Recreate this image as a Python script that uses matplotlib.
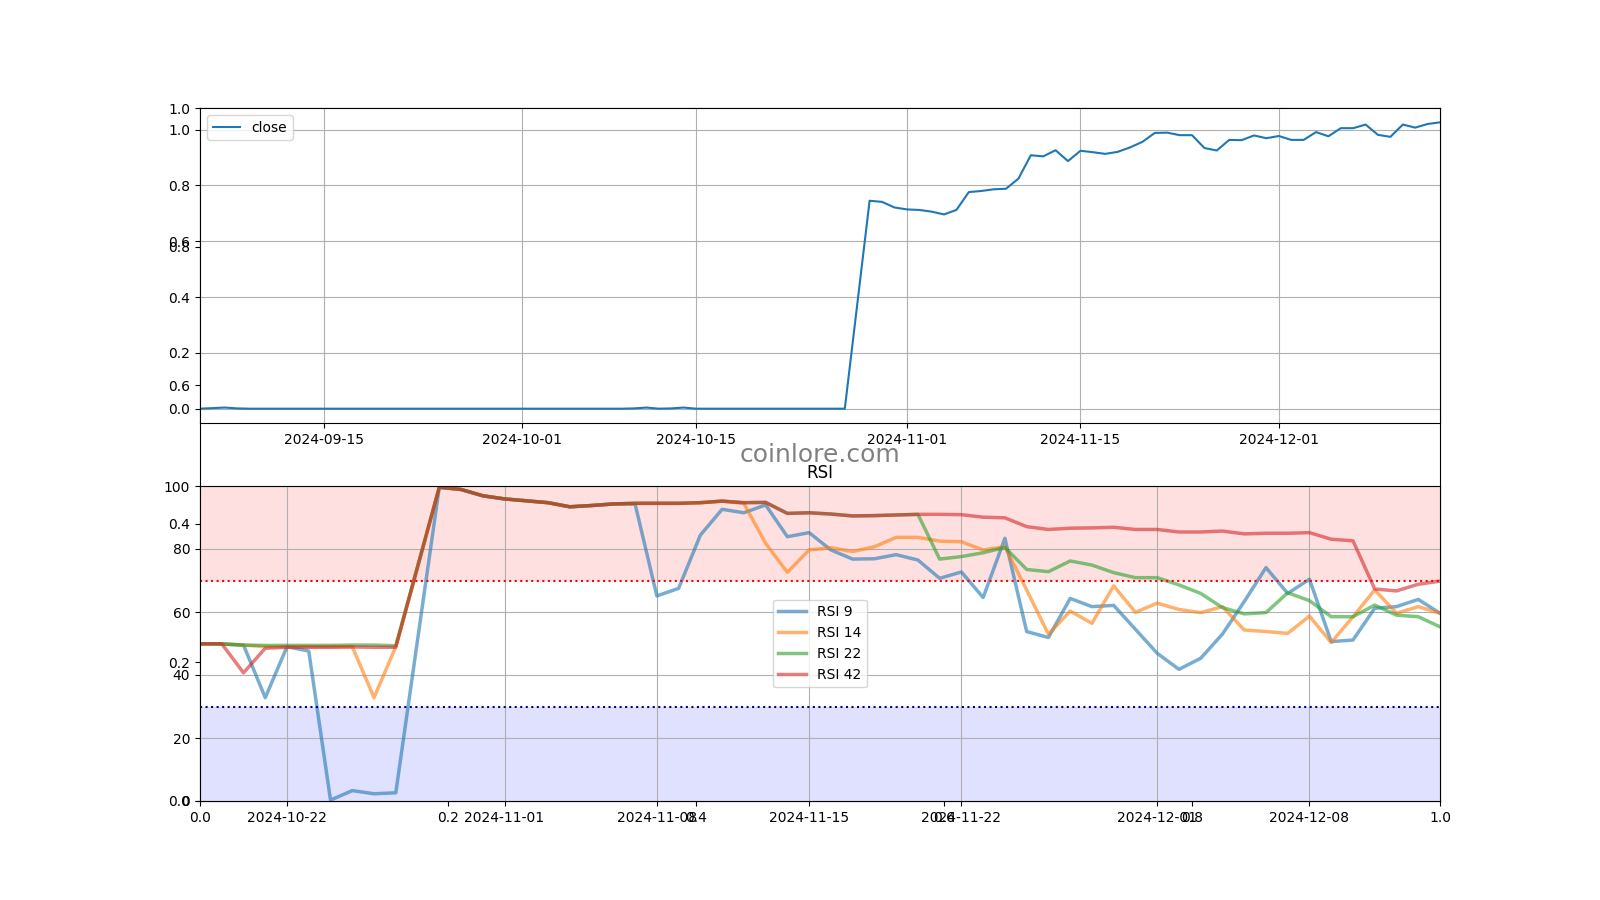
import pandas as pd
import numpy as np
import matplotlib
matplotlib.use('Agg')
import matplotlib.pyplot as plt

# Close price (normalised), daily 2024-09-05 .. 2024-12-14, 2024-10-28 missing
close_dates = pd.date_range('2024-09-05', '2024-12-14').drop(pd.Timestamp('2024-10-28'))
close = [
    # Sep 05 - Sep 30
    0.0, 0.002, 0.004, 0.001, 0.0, 0.0, 0.0, 0.0, 0.0, 0.0,
    0.0, 0.0, 0.0, 0.0, 0.0, 0.0, 0.0, 0.0, 0.0, 0.0,
    0.0, 0.0, 0.0, 0.0, 0.0, 0.0,
    # Oct 01 - Oct 27
    0.0, 0.0, 0.0, 0.0, 0.0, 0.0, 0.0, 0.0, 0.0, 0.001,
    0.004, 0.0, 0.001, 0.004, 0.0, 0.0, 0.0, 0.0, 0.0, 0.0,
    0.0, 0.0, 0.0, 0.0, 0.0, 0.0, 0.0,
    # Oct 29 - Oct 31
    0.745, 0.741, 0.721,
    # Nov
    0.714, 0.712, 0.706, 0.696, 0.712, 0.776, 0.780, 0.786, 0.788, 0.824,
    0.908, 0.904, 0.926, 0.887, 0.924, 0.919, 0.913, 0.920, 0.936, 0.956,
    0.988, 0.989, 0.980, 0.980, 0.934, 0.925, 0.963, 0.962, 0.979, 0.969,
    # Dec 01 - Dec 14
    0.977, 0.963, 0.963, 0.991, 0.976, 1.005, 1.005, 1.018, 0.981, 0.974,
    1.018, 1.007, 1.020, 1.026,
]

# RSI, daily 2024-10-18 .. 2024-12-14, 2024-10-28 missing
rsi_dates = pd.date_range('2024-10-18', '2024-12-14').drop(pd.Timestamp('2024-10-28'))
rsi_9 = [
    49.9, 49.9, 49.5, 32.8, 49.0, 47.6, 0.3, 3.3, 2.3, 2.6,
    99.6, 98.9, 96.9, 95.9, 95.3, 94.7, 93.4, 93.8, 94.3, 94.3,
    65.1, 67.5, 84.4, 92.6, 91.5, 94.0, 83.9, 85.2, 79.7, 76.8,
    76.9, 78.2, 76.5, 70.7, 72.7, 64.6, 83.4, 53.8, 51.9, 64.3,
    61.7, 62.1, 54.5, 46.9, 41.8, 45.3, 53.0, 63.3, 74.1, 65.9,
    70.4, 50.6, 51.1, 61.2, 61.7, 64.0, 59.6,
]
rsi_14 = [
    49.9, 49.9, 49.5, 49.0, 49.0, 49.0, 49.0, 49.0, 32.8, 49.0,
    99.6, 98.9, 96.9, 95.9, 95.3, 94.7, 93.4, 93.8, 94.3, 94.5,
    94.5, 94.5, 94.7, 95.2, 94.5, 81.8, 72.6, 79.7, 80.4, 79.2,
    80.7, 83.7, 83.7, 82.5, 82.3, 79.7, 80.7, 67.0, 52.9, 60.3,
    56.4, 68.3, 59.9, 62.8, 60.8, 59.8, 61.7, 54.3, 53.8, 53.2,
    58.7, 50.3, 58.5, 67.0, 59.6, 61.7, 59.6,
]
rsi_22 = [
    49.9, 49.8, 49.5, 49.4, 49.4, 49.4, 49.4, 49.5, 49.5, 49.3,
    99.6, 98.9, 96.9, 95.9, 95.3, 94.7, 93.4, 93.8, 94.3, 94.5,
    94.5, 94.5, 94.7, 95.2, 94.7, 94.8, 91.3, 91.5, 91.1, 90.5,
    90.6, 90.8, 91.0, 76.8, 77.6, 78.8, 80.5, 73.5, 72.8, 76.2,
    74.9, 72.5, 70.9, 70.9, 68.6, 65.9, 61.4, 59.4, 59.8, 66.1,
    63.6, 58.5, 58.5, 62.2, 59.0, 58.5, 55.3,
]
rsi_42 = [
    49.9, 49.9, 40.7, 48.5, 48.8, 48.8, 48.8, 48.9, 48.8, 48.8,
    99.6, 98.9, 96.9, 95.9, 95.3, 94.7, 93.4, 93.8, 94.3, 94.5,
    94.5, 94.5, 94.7, 95.2, 94.7, 94.8, 91.3, 91.5, 91.1, 90.5,
    90.6, 90.8, 91.0, 91.0, 90.9, 90.1, 89.9, 87.1, 86.2, 86.6,
    86.7, 86.9, 86.2, 86.2, 85.4, 85.4, 85.7, 84.8, 85.0, 85.0,
    85.2, 83.1, 82.6, 67.3, 66.7, 68.8, 69.8,
]

fig = plt.figure(figsize=(16, 9), dpi=100)

# background axes carrying the watermark
bg = fig.add_subplot(111)
bg.text(0.5, 0.5, 'coinlore.com', transform=bg.transAxes, ha='center', va='center',
        fontsize=18, color='gray')

ax1 = fig.add_subplot(211)
ax1.plot(close_dates, close, label='close')
ax1.set_xlim(close_dates[0], close_dates[-1])
ax1.legend(loc='upper left')
ax1.grid(True)

ax2 = fig.add_subplot(212)
ax2.plot(rsi_dates, rsi_9, label='RSI 9', lw=2.5, alpha=0.6)
ax2.plot(rsi_dates, rsi_14, label='RSI 14', lw=2.5, alpha=0.6)
ax2.plot(rsi_dates, rsi_22, label='RSI 22', lw=2.5, alpha=0.6)
ax2.plot(rsi_dates, rsi_42, label='RSI 42', lw=2.5, alpha=0.6)
ax2.axhspan(70, 100, color='red', alpha=0.12, lw=0)
ax2.axhspan(0, 30, color='blue', alpha=0.12, lw=0)
ax2.axhline(70, color='r', linestyle=':', lw=1.5)
ax2.axhline(30, color='darkblue', linestyle=':', lw=1.5)
ax2.set_xlim(rsi_dates[0], rsi_dates[-1])
ax2.set_ylim(0, 100)
ax2.set_title('RSI')
ax2.legend(loc='center')
ax2.grid(True)

plt.savefig('out.png')
